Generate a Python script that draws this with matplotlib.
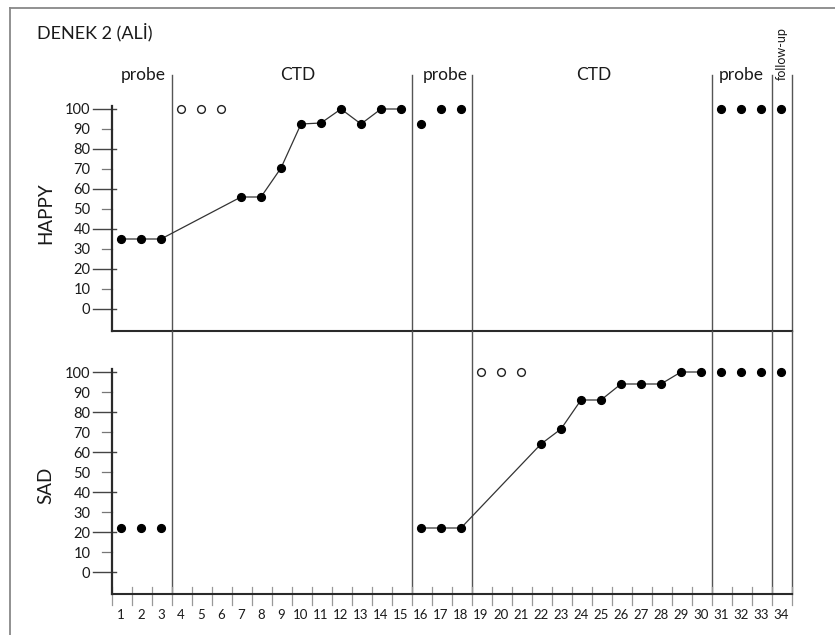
import matplotlib
matplotlib.use("Agg")
import matplotlib.pyplot as plt
from matplotlib.lines import Line2D

# ---------------- data ----------------
sessions = list(range(1, 35))
phase_bounds = [3.55, 15.55, 18.55, 30.55, 33.55, 34.55]
phase_names = ["probe", "CTD", "probe", "CTD", "probe"]
phase_label_x = [2.1, 9.85, 17.2, 24.65, 32.0]
followup_label = "follow-up"
y_ticks = [0, 10, 20, 30, 40, 50, 60, 70, 80, 90, 100]

# HAPPY
happy_line_x = [1, 2, 3, 7, 8, 9, 10, 11, 12, 13, 14, 15]
happy_line_y = [35, 35, 35, 56, 56, 70.5, 92.5, 93, 100, 92.5, 100, 100]
happy_open_x = [4, 5, 6]
happy_open_y = [100, 100, 100]
happy_dots_x = [16, 17, 18, 31, 32, 33, 34]
happy_dots_y = [92.5, 100, 100, 100, 100, 100, 100]

# SAD
sad_line_x = [16, 17, 18, 22, 23, 24, 25, 26, 27, 28, 29, 30]
sad_line_y = [22, 22, 22, 64, 71.5, 86, 86, 94, 94, 94, 100, 100]
sad_open_x = [19, 20, 21]
sad_open_y = [100, 100, 100]
sad_dots_x = [1, 2, 3, 31, 32, 33, 34]
sad_dots_y = [22, 22, 22, 100, 100, 100, 100]

FONT = ["Lato", "DejaVu Sans"]
TICKFONT = ["Liberation Sans Narrow", "Lato", "DejaVu Sans"]
plt.rcParams["font.family"] = FONT

W, H = 835, 635
fig = plt.figure(figsize=(W / 100, H / 100), dpi=100)

def fx(px):
    return px / W

def fy(py):
    return 1 - py / H

left_px, right_px = 112, 792
ax_top = fig.add_axes([fx(left_px), fy(331), fx(right_px - left_px), (331 - 75) / H])
ax_bot = fig.add_axes([fx(left_px), fy(594), fx(right_px - left_px), (594 - 331) / H])

XMIN, XMAX = 0.55, 34.55
ax_top.set_xlim(XMIN, XMAX)
ax_bot.set_xlim(XMIN, XMAX)
ax_top.set_ylim(-11, 117)
ax_bot.set_ylim(-11, 120.5)

axis_col = "#2a2a2a"
phase_col = "#555555"
line_col = "#333333"
text_col = "#1a1a1a"

for ax, ytop in ((ax_top, 117), (ax_bot, 120.5)):
    for s in ax.spines.values():
        s.set_visible(False)
    ax.patch.set_alpha(0)
    ax.set_yticks(y_ticks)
    ax.set_yticklabels([str(v) for v in y_ticks], family=TICKFONT, fontsize=10.5, color=text_col)
    ax.tick_params(axis="y", length=0, pad=15.5)
    for v in y_ticks:
        if v % 20 == 0:
            ax.plot([XMIN - 0.95, XMIN + 0.2], [v, v], color="#444", lw=1.0, clip_on=False, zorder=2)
        else:
            ax.plot([XMIN - 0.5, XMIN], [v, v], color="#777", lw=0.9, clip_on=False, zorder=2)
    ax.plot([XMIN, XMIN], [-11, 101.5], color=axis_col, lw=1.6, clip_on=False, zorder=3)
    ax.plot([XMIN, XMAX], [-11, -11], color=axis_col, lw=1.5, clip_on=False, zorder=3)
    for b in phase_bounds:
        ax.plot([b, b], [-11, ytop], color=phase_col, lw=1.0, clip_on=False, zorder=1)

ax_top.set_xticks([])
ax_bot.set_xticks(sessions)
ax_bot.set_xticklabels([str(s) for s in sessions], family=FONT, fontsize=9.5, color=text_col)
ax_bot.tick_params(axis="x", length=0, pad=10.5)
for k in range(0, 35):
    xb = XMIN + k
    ax_bot.plot([xb, xb], [-7.5, -16.5], color="#999999", lw=0.9, clip_on=False, zorder=2)

ms = 5.6
def plot_panel(ax, lx, ly, ox, oy, dx, dy):
    ax.plot(lx, ly, color=line_col, lw=0.9, marker="o", ms=ms, mfc="black", mec="black",
            clip_on=False, zorder=4)
    ax.plot(ox, oy, linestyle="none", marker="o", ms=ms, mfc="white", mec="#222", mew=1.0,
            clip_on=False, zorder=4)
    ax.plot(dx, dy, linestyle="none", marker="o", ms=ms, mfc="black", mec="black",
            clip_on=False, zorder=4)

plot_panel(ax_top, happy_line_x, happy_line_y, happy_open_x, happy_open_y, happy_dots_x, happy_dots_y)
plot_panel(ax_bot, sad_line_x, sad_line_y, sad_open_x, sad_open_y, sad_dots_x, sad_dots_y)

for name, xl in zip(phase_names, phase_label_x):
    ax_top.text(xl, 114.5, name, ha="center", va="baseline", fontsize=12.5, color=text_col, clip_on=False)
ax_top.text(34.05, 114.5, followup_label, ha="center", va="bottom", rotation=90,
            fontsize=9, color=text_col, clip_on=False)

fig.text(fx(46), fy(213), "HAPPY", rotation=90, ha="center", va="center", fontsize=13.5, color=text_col)
fig.text(fx(46), fy(485), "SAD", rotation=90, ha="center", va="center", fontsize=13.5, color=text_col)

fig.text(fx(37), fy(32), "DENEK 2 (ALİ)", ha="left", va="center", fontsize=13, color=text_col)

fig.add_artist(Line2D([fx(10), fx(835)], [fy(8), fy(8)], transform=fig.transFigure, color="#888", lw=1.3))
fig.add_artist(Line2D([fx(10), fx(10)], [fy(8), fy(635)], transform=fig.transFigure, color="#888", lw=1.3))

fig.savefig("out.png", dpi=100, facecolor="white")
